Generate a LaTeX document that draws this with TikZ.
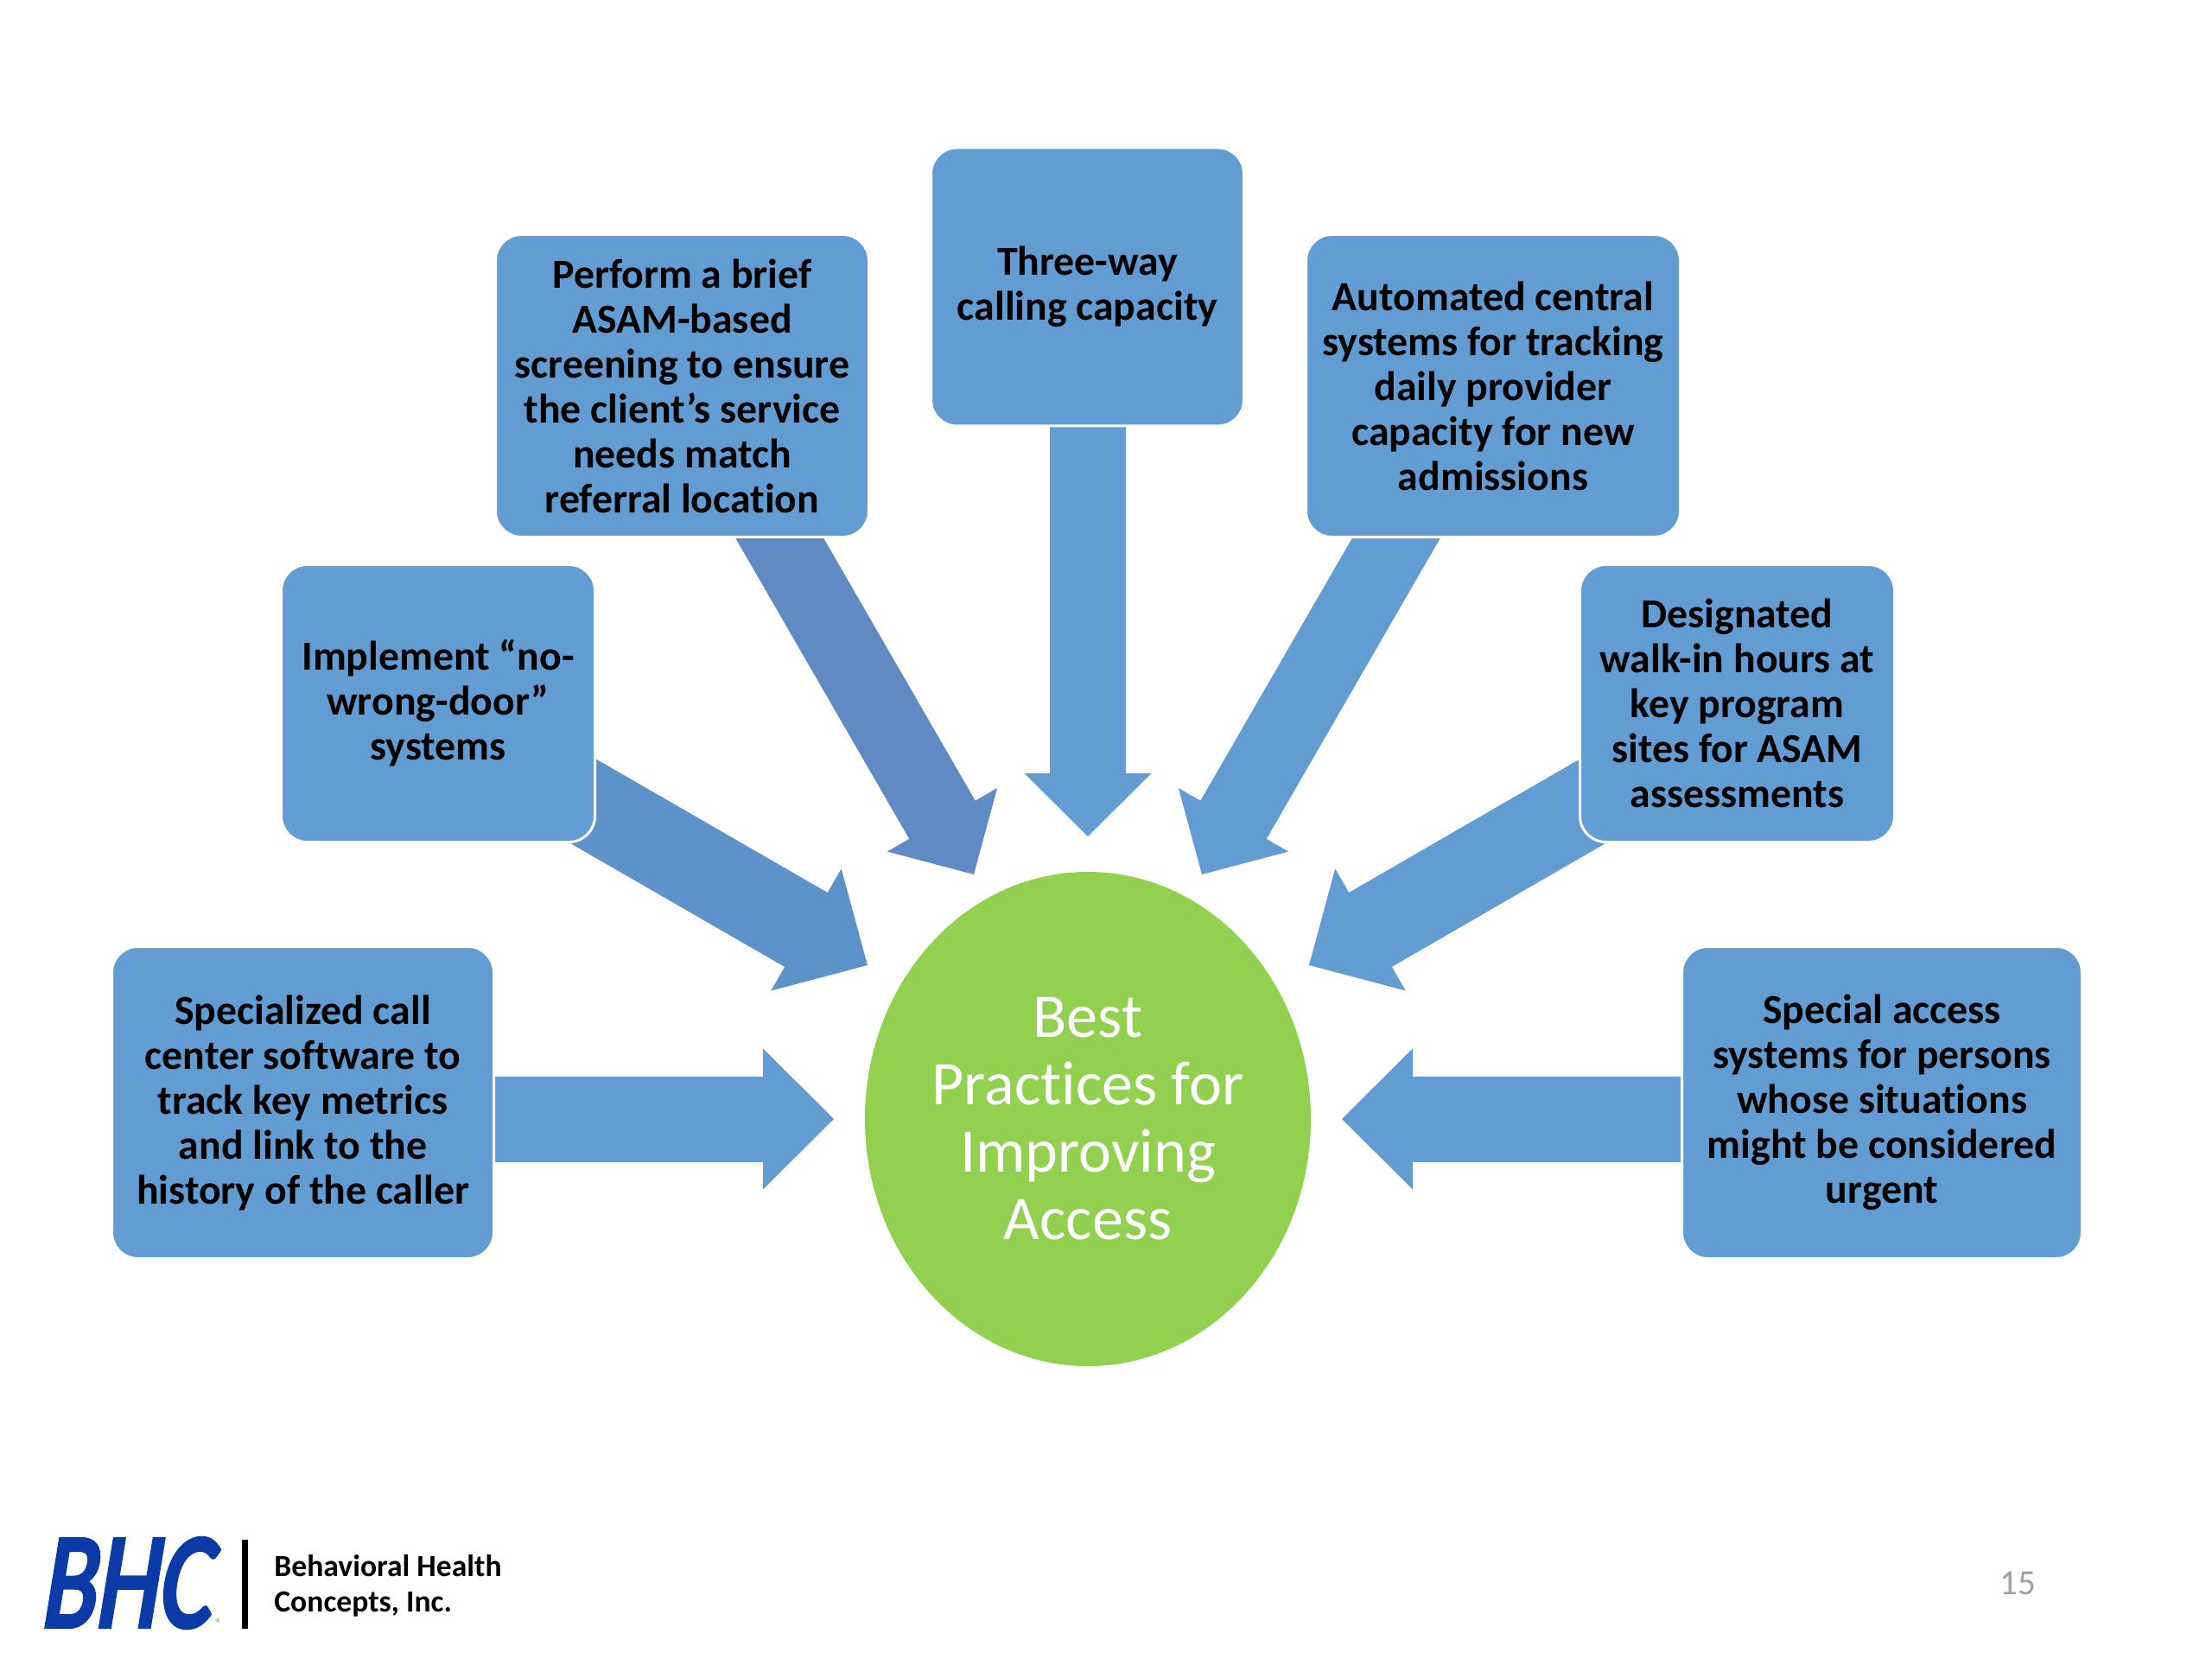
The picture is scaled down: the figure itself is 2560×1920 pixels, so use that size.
\documentclass[tikz,border=0pt]{standalone}
\usepackage{fontspec}
\setmainfont[Ligatures=NoCommon]{Carlito}
\newfontfamily\bhcfont[FakeBold=4,FakeSlant=0.22]{Carlito}
\usetikzlibrary{arrows.meta,backgrounds,shapes.geometric}
\definecolor{boxblue}{HTML}{619DD3}
\definecolor{arrowA}{HTML}{619DD3}
\definecolor{arrowB}{HTML}{5E92CB}
\definecolor{arrowC}{HTML}{5F8AC3}
\definecolor{hubgreen}{HTML}{92D050}
\definecolor{logoblue}{HTML}{0B3BA6}
\definecolor{pagegray}{HTML}{A0A0A0}
\tikzset{
  pxscale/.style={x=0.5pt,y=-0.5pt},
  infobox/.style={draw=white,line width=1.5pt,fill=boxblue,rounded corners=15pt,inner sep=0pt,align=center,text=black,
    font=\fontsize{23.9pt}{26pt}\selectfont\bfseries},
  bigarrow/.style={line width=49.5pt,-{Triangle[length=41pt,width=81.5pt,line width=0pt]},postaction={draw,-,shorten >=38pt}},
  smallarrow/.style={line width=44pt,-{Triangle[length=36.5pt,width=73.5pt,line width=0pt]},postaction={draw,-,shorten >=33pt}},
  hubnode/.style={ellipse,fill=hubgreen,inner sep=0pt,minimum width=258pt,minimum height=286pt,align=center,text=white,
    font=\fontsize{36pt}{39pt}\selectfont},
  logotext/.style={font=\fontsize{17.8pt}{22pt}\selectfont\bfseries,align=left,anchor=west,inner sep=0pt,text=black},
}
\begin{document}
\begin{tikzpicture}[pxscale]
\useasboundingbox (0,0) rectangle (2560,1920);
% hub
\node[hubnode] (hub) at (1259,1295) {Best\\Practices for\\Improving\\Access};
% boxes
\node[infobox,minimum width=221pt,minimum height=180.5pt] (callcenter) at (350.5,1276) {Specialized call\\center software to\\track key metrics\\and link to the\\history of the caller};
\node[infobox,minimum width=181.5pt,minimum height=160.5pt] (nowrong) at (507,814) {Implement “no-\\wrong-door”\\systems};
\node[infobox,minimum width=216pt,minimum height=175pt] (asam) at (789.5,446.5) {Perform a brief\\ASAM-based\\screening to ensure\\the client’s service\\needs match\\referral location};
\node[infobox,minimum width=181pt,minimum height=161pt] (threeway) at (1258.5,332) {Three-way\\calling capacity};
\node[infobox,minimum width=216.5pt,minimum height=175pt] (automated) at (1728,446.5) {Automated central\\systems for tracking\\daily provider\\capacity for new\\admissions};
\node[infobox,minimum width=182pt,minimum height=160.5pt] (walkin) at (2010.5,814) {Designated\\walk-in hours at\\key program\\sites for ASAM\\assessments};
\node[infobox,minimum width=231.5pt,minimum height=180.5pt] (special) at (2178,1276) {Special access\\systems for persons\\whose situations\\might be considered\\urgent};
% arrow ends
\coordinate (s1) at (500,1295);  \coordinate (e1) at (965,1295);
\coordinate (s2) at (600,884);   \coordinate (e2) at (1004,1117);
\coordinate (s3) at (889,600);   \coordinate (e3) at (1127,1012);
\coordinate (s4) at (1259,400);  \coordinate (e4) at (1259,968);
\coordinate (s5) at (1629,600);  \coordinate (e5) at (1391,1012);
\coordinate (s6) at (1918,884);  \coordinate (e6) at (1515,1117);
\coordinate (s7) at (2000,1295); \coordinate (e7) at (1553,1295);
\begin{scope}[on background layer]
\draw[bigarrow,arrowA] (s1) -- (e1);
\draw[bigarrow,arrowB] (s2) -- (e2);
\draw[smallarrow,arrowC] (s3) -- (e3);
\draw[smallarrow,arrowA] (s4) -- (e4);
\draw[smallarrow,arrowA] (s5) -- (e5);
\draw[bigarrow,arrowA] (s6) -- (e6);
\draw[bigarrow,arrowA] (s7) -- (e7);
\end{scope}
% footer
\node[inner sep=0pt,text=logoblue,font=\fontsize{78pt}{78pt}\bhcfont,xscale=0.74] (bhc) at (144,1832) {BHC};
\node[inner sep=0pt,text=gray,font=\fontsize{7pt}{7pt}\selectfont] (reg) at (253,1879) {®};
\coordinate (bartop) at (283.5,1782);
\coordinate (barbot) at (283.5,1885);
\draw[black,line width=3.5pt] (bartop) -- (barbot);
\node[logotext] (bhname) at (317,1812) {Behavioral Health};
\node[logotext] (bhname2) at (317,1857) {Concepts, Inc.};
\node[inner sep=0pt,text=pagegray,font=\fontsize{20.5pt}{24pt}\selectfont] (pagenum) at (2335,1832) {15};
\end{tikzpicture}
\end{document}
